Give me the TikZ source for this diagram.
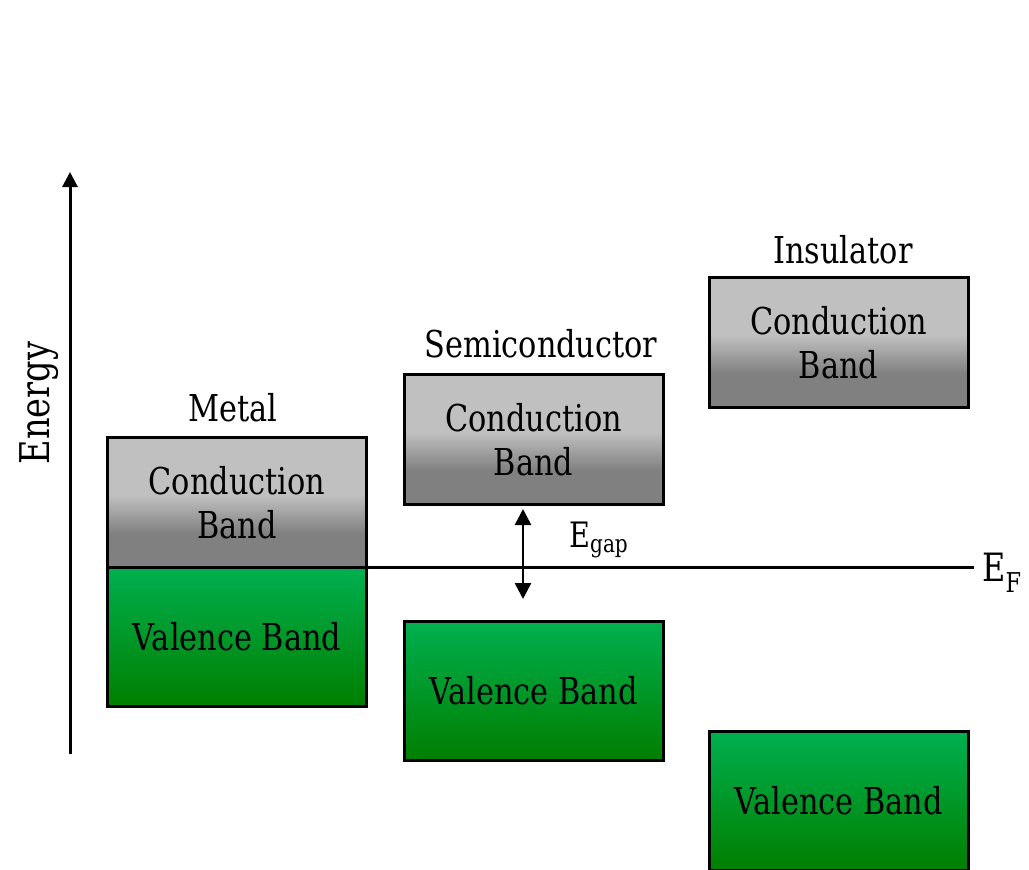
\documentclass[tikz,border=0pt]{standalone}
\usepackage{fontspec}
\setmainfont{DejaVu Serif}[FakeStretch=0.82]
\usetikzlibrary{arrows.meta}
\definecolor{cbtop}{HTML}{C0C0C0}
\definecolor{cbbot}{HTML}{808080}
\definecolor{vbtop}{HTML}{00B050}
\definecolor{vbbot}{HTML}{007F00}
% conduction band: light upper half, darkening through the middle
\pgfdeclareverticalshading{cbshade}{100bp}{color(0bp)=(cbbot); color(38bp)=(cbbot); color(53bp)=(cbtop); color(100bp)=(cbtop)}
\tikzset{
  band/.style={draw=black, line width=3pt, anchor=north west, inner sep=0pt,
    outer sep=0pt, minimum width=259pt, align=center, text=black,
    font=\fontsize{37}{44}\selectfont},
  cband/.style={band, shading=cbshade, minimum height=130pt},
  vband/.style={band, top color=vbtop, bottom color=vbbot, minimum height=138.5pt},
  title/.style={font=\fontsize{37}{44}\selectfont, inner sep=0pt},
  axisline/.style={line width=3pt, -{Triangle[length=15pt,width=15pt]}},
  gapline/.style={line width=2.6pt, {Triangle[length=16pt,width=16pt]}-{Triangle[length=16pt,width=16pt]}},
}
\begin{document}
\begin{tikzpicture}[x=1pt, y=-1pt]
\useasboundingbox (0,0) rectangle (1029,870);

% energy axis
\coordinate (ax0) at (70,754);
\coordinate (ax1) at (70,172);
\draw[axisline] (ax0) -- (ax1);
\node[title, font=\fontsize{41}{48}\selectfont, rotate=90] (energy) at (39,403) {Energy};

% metal
\node[cband] (mcb) at (107.5,437.5) {Conduction\\Band};
\node[vband] (mvb) at (107.5,567.5) {Valence Band};
\node[title] (metal) at (233,408) {Metal};

% semiconductor
\node[cband] (scb) at (404,374.5) {Conduction\\Band};
\node[vband] (svb) at (404,621.5) {Valence Band};
\node[title] (semi) at (541,344) {Semiconductor};

% insulator
\node[cband] (icb) at (709,277.5) {Conduction\\Band};
\node[vband] (ivb) at (709,731.5) {Valence Band};
\node[title] (insul) at (843,250) {Insulator};

% Fermi level
\coordinate (efend) at (974,567.5);
\draw[line width=3pt] (mcb.south east) -- (efend);
\node[font=\fontsize{39}{46}\selectfont, anchor=west, inner sep=0pt] (ef) at (982,573) {E\textsubscript{F}};

% band gap
\coordinate (g0) at (523,509);
\coordinate (g1) at (523,599);
\draw[gapline] (g0) -- (g1);
\node[font=\fontsize{35}{40}\selectfont, anchor=west, inner sep=0pt] (egap) at (569,540) {E\textsubscript{gap}};
\end{tikzpicture}
\end{document}
